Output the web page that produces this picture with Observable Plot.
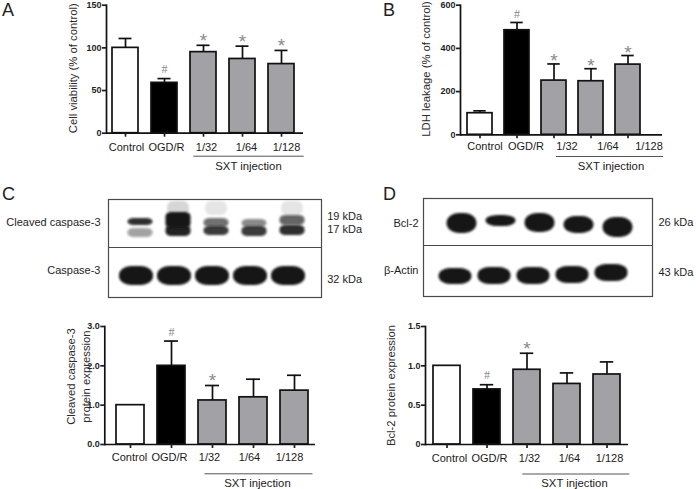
<!DOCTYPE html>
<html>
<head>
<meta charset="utf-8">
<script src="https://cdn.jsdelivr.net/npm/d3@7"></script>
<script src="https://cdn.jsdelivr.net/npm/@observablehq/plot@0.6"></script>
<style>
html, body { margin: 0; padding: 0; background: #fff; }
#fig { position: relative; width: 696px; height: 489px; overflow: hidden; background: #fff;
  font-family: "Liberation Sans", Arial, Helvetica, sans-serif; color: #1e1e1e; }
.letter { position: absolute; font-size: 18px; line-height: normal; color: #222; }
</style>
</head>
<body>
<div id="fig"></div>
<script>
// ---------------- data ----------------
const groups = ["Control", "OGD/R", "1/32", "1/64", "1/128"];
const groupFill = ["#ffffff", "#000000", "#a2a2a6", "#a2a2a6", "#a2a2a6"];
const treatmentLabel = "SXT injection";

// A: cell viability (% of control), mean and mean+SD
const cellViability = [100, 59, 95, 87, 81];
const cellViabilityUpper = [111, 64, 103, 102, 97];
const cellViabilitySig = ["", "#", "*", "*", "*"];
const ticksA = [0, 50, 100, 150];

// B: LDH leakage (% of control)
const ldhLeakage = [100, 484, 251, 248, 325];
const ldhLeakageUpper = [111, 520, 328, 306, 367];
const ldhLeakageSig = ["", "#", "*", "*", "*"];
const ticksB = [0, 200, 400, 600];

// C: cleaved caspase-3 protein expression
const cleavedExpr = [1.0, 2.0, 1.12, 1.2, 1.37];
const cleavedExprUpper = [1.0, 2.63, 1.5, 1.66, 1.76];
const cleavedExprSig = ["", "#", "*", "", ""];
const ticksC = [0, 1, 2, 3];

// D: Bcl-2 protein expression
const bcl2Expr = [1.0, 0.70, 0.95, 0.77, 0.89];
const bcl2ExprUpper = [1.0, 0.76, 1.16, 0.91, 1.05];
const bcl2ExprSig = ["", "#", "*", "", ""];
const ticksD = [0, 0.5, 1.0, 1.5];

// Western blots: band migration (top/bottom, blot units from the top of the membrane) and density
const cleaved19Top = [19, 13, 19, 20, 16];
const cleaved19Bottom = [26, 29, 28, 28, 26];
const cleaved19Density = [0.9, 1.0, 0.6, 0.5, 0.65];
const cleaved17Top = [29, 26, 27, 27, 26];
const cleaved17Bottom = [38, 37, 36, 37, 36];
const cleaved17Density = [0.4, 0.95, 0.85, 0.85, 0.9];
const cleavedSmear = [0, 0.16, 0.1, 0, 0.1];
const casp3Top = [67, 67, 67, 67, 67];
const casp3Bottom = [86, 86, 86, 86, 86];
const casp3Density = [1, 1, 1, 1, 1];
const cRowLabels = ["Cleaved caspase-3", "Caspase-3"];
const cRowPos = [23, 71];
const cMarkerLabels = ["19 kDa", "17 kDa", "32 kDa"];
const cMarkerPos = [16.7, 30, 80];

const bcl2Top = [15, 17, 15, 18, 19];
const bcl2Bottom = [35, 28, 34, 35, 39];
const bcl2Density = [1, 1, 1, 1, 1];
const actinTop = [70, 69, 69, 68, 66];
const actinBottom = [86, 86, 86, 85, 83];
const actinDensity = [1, 1, 1, 1, 1];
const dRowLabels = ["Bcl-2", "β-Actin"];
const dRowPos = [25, 72];
const dMarkerLabels = ["26 kDa", "43 kDa"];
const dMarkerPos = [23.7, 73.7];

// ---------------- drawing ----------------
const FONT = '"Liberation Sans", Arial, Helvetica, sans-serif';
const fig = document.getElementById("fig");
function place(svg, left, top) {
  svg.style.position = "absolute";
  svg.style.left = left + "px";
  svg.style.top = top + "px";
  fig.appendChild(svg);
}
function letter(ch, left, baseline) {
  const d = document.createElement("div");
  d.className = "letter";
  d.textContent = ch;
  d.style.left = left + "px";
  d.style.top = Math.max(0.3, baseline - 16.3) + "px";
  fig.appendChild(d);
}
const baseStyle = {fontFamily: FONT, fontSize: "11px", color: "#1e1e1e", background: "transparent", overflow: "visible"};

function barPanel(c) {
  const data = groups.map((g, i) => ({group: g, value: c.values[i], upper: c.upper[i], sig: c.sig[i], fill: groupFill[i]}));
  const withErr = data.filter(d => d.upper > d.value);
  const stars = data.filter(d => d.sig === "*");
  const hashes = data.filter(d => d.sig === "#");
  const step = (c.barEnd - c.barStart) / (groups.length - c.pad);
  const bw = step * (1 - c.pad);
  const capInset = bw * (1 - c.cap) / 2;
  const sw = 1.7;
  const main = Plot.plot({
    width: c.width, height: c.height,
    marginLeft: c.axisLeft - c.left, marginRight: c.left + c.width - c.axisRight,
    marginTop: c.yTopPx - c.top, marginBottom: c.top + c.height - c.y0px,
    style: baseStyle,
    x: {type: "band", domain: groups, range: [c.barStart - c.left, c.barEnd - c.left], paddingInner: c.pad, paddingOuter: 0},
    y: {domain: [c.ticks[0], c.ticks[c.ticks.length - 1]]},
    color: {type: "identity"},
    marks: [
      Plot.ruleX(withErr, {x: "group", y1: "value", y2: "upper", stroke: "#111", strokeWidth: sw}),
      Plot.tickY(withErr, {x: "group", y: "upper", inset: capInset, stroke: "#111", strokeWidth: sw}),
      Plot.barY(data, {x: "group", y: "value", fill: "fill", stroke: "#111", strokeWidth: sw}),
      Plot.text(stars, {x: "group", y: "upper", text: "sig", lineAnchor: "bottom", dy: c.starDy, fontSize: 19, fill: "#8a8a8a"}),
      Plot.text(hashes, {x: "group", y: "upper", text: "sig", lineAnchor: "bottom", dy: c.hashDy, fontSize: 12, fontFamily: '"Liberation Serif", "Times New Roman", serif', fill: "#8a8a8a"}),
      Plot.ruleY([c.ticks[0]], {stroke: "#111", strokeWidth: sw}),
      Plot.frame({anchor: "left", stroke: "#111", strokeWidth: sw}),
      Plot.axisY({ticks: c.ticks, tickSize: 4, tickPadding: 1, tickFormat: c.tickFormat, fontSize: 9, fontWeight: "bold", strokeWidth: sw, label: null}),
      Plot.axisX({tickSize: 4, tickFormat: () => "", strokeWidth: sw, label: null}),
      Plot.text([c.title], {frameAnchor: "left", rotate: -90, dx: c.titleDx, dy: c.titleDy, fontSize: 11.3, lineHeight: 1.35, textAnchor: "middle", lineAnchor: "middle", fill: "#2a2a2a"})
    ]
  });
  place(main, c.left, c.top);

  // category labels and the treatment bracket
  const lab = Plot.plot({
    width: c.width, height: c.height,
    marginTop: c.bracketY - c.top, marginBottom: 2,
    marginLeft: c.bracketStart - c.left, marginRight: c.left + c.width - c.bracketEnd,
    style: baseStyle,
    x: {type: "band", domain: groups, range: [c.labelStart - c.left, c.labelEnd - c.left], padding: 0, axis: null},
    marks: [
      Plot.frame({anchor: "top", stroke: "#555", strokeWidth: 1}),
      Plot.text(groups, {x: d => d, text: d => d, frameAnchor: "top", dy: c.labelY - c.bracketY, lineAnchor: "middle", fontSize: 11, fill: "#1a1a1a"}),
      Plot.text([treatmentLabel], {x: () => "1/64", frameAnchor: "top", dx: c.groupDx, dy: c.groupY - c.bracketY, lineAnchor: "middle", fontSize: 11.3, fill: "#1a1a1a"})
    ]
  });
  place(lab, c.left, c.top);
}

function blotPanel(c) {
  const W = c.boxRight - c.boxLeft + 2, H = c.boxBottom - c.boxTop + 2;
  const rowsOf = (top, bottom, dens) => groups.map((g, i) => ({lane: g, top: top[i], bottom: bottom[i], density: dens[i]})).filter(d => d.density > 0);
  const bandMarks = c.rows.map(r => Plot.barY(rowsOf(r.top, r.bottom, r.density), {
    x: "lane", y1: "top", y2: "bottom", fill: "#141414", fillOpacity: "density",
    insetLeft: r.inset, insetRight: r.inset, dx: r.dx, rx: r.rx, ry: r.ry
  }));
  const svg = Plot.plot({
    width: W, height: H, margin: 1,
    style: baseStyle,
    x: {type: "band", domain: groups, range: [c.laneStart - c.boxLeft + 1, c.laneEnd - c.boxLeft + 1], padding: 0, axis: null},
    y: {domain: [0, c.boxBottom - c.boxTop], reverse: true, axis: null},
    opacity: {type: "identity"},
    marks: [
      ...bandMarks,
      Plot.frame({stroke: "#4a4a4a", strokeWidth: 1.2}),
      Plot.ruleY([c.divider], {stroke: "#4a4a4a", strokeWidth: 1.2}),
      Plot.text(c.rowLabels, {y: (d, i) => c.rowPos[i], text: d => d, frameAnchor: "left", textAnchor: "end", dx: c.rowDx, lineAnchor: "middle", fontSize: 11, fill: "#1e1e1e"}),
      Plot.text(c.markerLabels, {y: (d, i) => c.markerPos[i], text: d => d, frameAnchor: "right", textAnchor: "start", dx: c.markerDx, lineAnchor: "middle", fontSize: 11, fill: "#1e1e1e"})
    ]
  });
  const s = d3.select(svg);
  const id = "blur" + c.id;
  s.append("defs").append("filter").attr("id", id).attr("x", "-20%").attr("y", "-40%").attr("width", "140%").attr("height", "180%")
    .append("feGaussianBlur").attr("stdDeviation", 1.1);
  s.selectAll('g[aria-label="bar"]').attr("filter", `url(#${id})`);
  place(svg, c.boxLeft - 1, c.boxTop - 1);
}

// Panel A
barPanel({
  left: 0, top: 0, width: 348, height: 180,
  values: cellViability, upper: cellViabilityUpper, sig: cellViabilitySig, ticks: ticksA,
  axisLeft: 106, axisRight: 303, y0px: 132.7, yTopPx: 4.7,
  barStart: 111.7, barEnd: 294.5, pad: 0.337, cap: 0.5,
  title: "Cell viability (% of control)", titleDx: -34.3, titleDy: -1,
  starDy: 2, hashDy: -6,
  labelStart: 104.5, labelEnd: 307.5, labelY: 146.5,
  bracketY: 155.7, bracketStart: 193.3, bracketEnd: 302.7, groupY: 165.5, groupDx: 2
});
// Panel B
barPanel({
  left: 348, top: 0, width: 348, height: 180,
  values: ldhLeakage, upper: ldhLeakageUpper, sig: ldhLeakageSig, ticks: ticksB,
  axisLeft: 460, axisRight: 662, y0px: 134.3, yTopPx: 4.7,
  barStart: 465.7, barEnd: 641.5, pad: 0.333, cap: 0.5,
  title: "LDH leakage (% of control)", titleDx: -35, titleDy: -1,
  starDy: 3, hashDy: -4,
  labelStart: 463.5, labelEnd: 668.5, labelY: 146,
  bracketY: 156, bracketStart: 556, bracketEnd: 662, groupY: 165.7, groupDx: 3
});
// Panel C (bars)
barPanel({
  left: 0, top: 300, width: 348, height: 189,
  values: cleavedExpr, upper: cleavedExprUpper, sig: cleavedExprSig, ticks: ticksC,
  axisLeft: 104.3, axisRight: 315, y0px: 444, yTopPx: 326,
  barStart: 115, barEnd: 308.3, pad: 0.32, cap: 0.5,
  title: "Cleaved caspase-3\nprotein expression", titleDx: -27.3, titleDy: -9,
  starDy: 1, hashDy: -5,
  labelStart: 107.5, labelEnd: 311, labelY: 457.3,
  bracketY: 473.3, bracketStart: 204.5, bracketEnd: 311.5, groupY: 483.3, groupDx: 8
});
// Panel D (bars)
barPanel({
  left: 348, top: 300, width: 348, height: 189,
  values: bcl2Expr, upper: bcl2ExprUpper, sig: bcl2ExprSig, ticks: ticksD,
  tickFormat: d => d === 0 ? "0" : d.toFixed(1),
  axisLeft: 425, axisRight: 628, y0px: 444, yTopPx: 326,
  barStart: 432.3, barEnd: 620, pad: 0.325, cap: 0.5,
  title: "Bcl-2 protein expression", titleDx: -35, titleDy: 0,
  starDy: 2, hashDy: -6,
  labelStart: 428, labelEnd: 630, labelY: 457.7,
  bracketY: 473.5, bracketStart: 522.3, bracketEnd: 628.3, groupY: 483.3, groupDx: 5
});

// Blot C
blotPanel({
  id: "C", boxLeft: 108, boxRight: 321, boxTop: 199, boxBottom: 297, divider: 48,
  laneStart: 114.55, laneEnd: 309.05,
  rows: [
    {top: groups.map(() => 2), bottom: groups.map(() => 16), density: cleavedSmear, inset: 8, dx: 4, rx: 6, ry: 6},
    {top: cleaved17Top, bottom: cleaved17Bottom, density: cleaved17Density, inset: 6.5, dx: 4, rx: 6, ry: 4},
    {top: cleaved19Top, bottom: cleaved19Bottom, density: cleaved19Density, inset: 6.5, dx: 4, rx: 6, ry: 4},
    {top: casp3Top, bottom: casp3Bottom, density: casp3Density, inset: 2, dx: 0, rx: 12, ry: 9}
  ],
  rowLabels: cRowLabels, rowPos: cRowPos, rowDx: -8,
  markerLabels: cMarkerLabels, markerPos: cMarkerPos, markerDx: 5.7
});
// Blot D
blotPanel({
  id: "D", boxLeft: 423, boxRight: 652, boxTop: 198, boxBottom: 296, divider: 47,
  laneStart: 440.25, laneEnd: 637.75,
  rows: [
    {top: bcl2Top, bottom: bcl2Bottom, density: bcl2Density, inset: 4.5, dx: 0, rx: 12, ry: 10},
    {top: actinTop, bottom: actinBottom, density: actinDensity, inset: 3, dx: -6.5, rx: 12, ry: 8}
  ],
  rowLabels: dRowLabels, rowPos: dRowPos, rowDx: -5,
  markerLabels: dMarkerLabels, markerPos: dMarkerPos, markerDx: 6
});

letter("A", 2, 16.6);
letter("B", 383, 16.6);
letter("C", 2, 200.5);
letter("D", 383, 200);
</script>
</body>
</html>
